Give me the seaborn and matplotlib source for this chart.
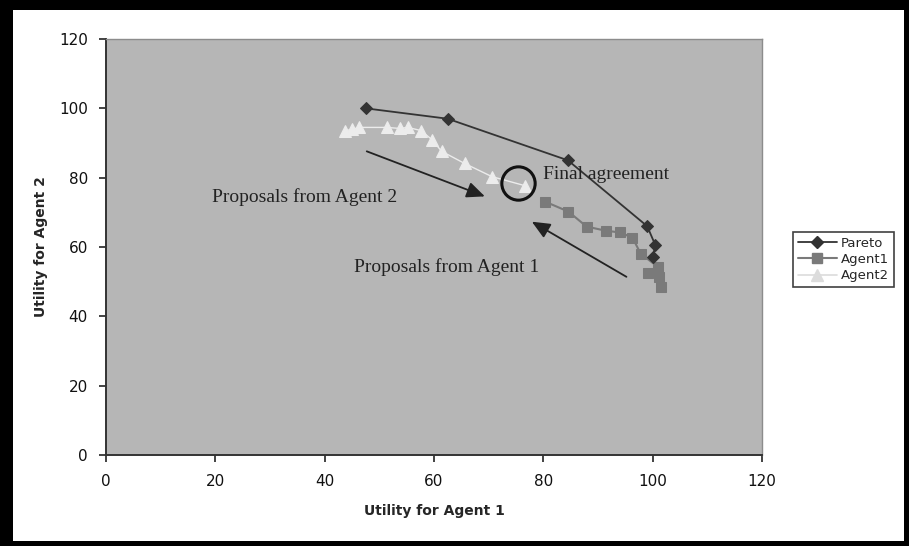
import matplotlib
matplotlib.use("Agg")
import matplotlib.pyplot as plt
import matplotlib.patches as mpatches
from matplotlib.lines import Line2D
import seaborn as sns
import pandas as pd

# Pareto frontier
pareto_u1 = [47.5, 62.5, 84.5, 99.0, 100.5, 100.0]
pareto_u2 = [100.0, 97.0, 85.0, 66.0, 60.5, 57.0]

# Offers made by Agent 1 (conceding from its own optimum)
agent1_u1 = [80.3, 84.6, 87.9, 91.4, 94.0, 96.3, 97.8, 100.9, 99.1, 101.1, 101.6]
agent1_u2 = [73.1, 70.2, 65.9, 64.7, 64.2, 62.7, 58.1, 54.3, 52.6, 51.4, 48.6]

# Offers made by Agent 2
agent2_u1 = [43.7, 45.0, 46.3, 51.4, 53.7, 55.2, 57.6, 59.6, 61.4, 65.6, 70.6, 76.6]
agent2_u2 = [93.6, 93.9, 94.5, 94.5, 94.2, 94.5, 93.6, 91.0, 87.6, 84.1, 80.3, 77.7]

agreement = (75.3, 78.6)

x_ticks = [0, 20, 40, 60, 80, 100, 120]
y_ticks = [0, 20, 40, 60, 80, 100, 120]

pareto = pd.DataFrame({"u1": pareto_u1, "u2": pareto_u2})
agent1 = pd.DataFrame({"u1": agent1_u1, "u2": agent1_u2})
agent2 = pd.DataFrame({"u1": agent2_u1, "u2": agent2_u2})

sns.set_style("white")
plt.rcParams["font.family"] = ["DejaVu Sans"]

fig = plt.figure(figsize=(9.09, 5.46), dpi=100)
fig.patch.set_facecolor("black")
# white page inside a thick black frame
fig.patches.append(mpatches.Rectangle((13 / 909, 5 / 546), 891 / 909, 531 / 546,
                                      transform=fig.transFigure, facecolor="white",
                                      edgecolor="none", zorder=-10))

ax = fig.add_axes([106 / 909, 91 / 546, 656 / 909, 416 / 546])
ax.set_facecolor("#b6b6b6")

pareto_col = "#333333"
agent1_col = "#7a7a7a"
agent2_col = "#ececec"

sns.lineplot(data=pareto, x="u1", y="u2", sort=False, ax=ax, color=pareto_col,
             lw=1.3, marker="D", markersize=6.5, markeredgecolor=pareto_col, zorder=4)
sns.lineplot(data=agent1, x="u1", y="u2", sort=False, ax=ax, color=agent1_col,
             lw=1.5, marker="s", markersize=7.5, markeredgecolor=agent1_col, zorder=3)
sns.lineplot(data=agent2, x="u1", y="u2", sort=False, ax=ax, color=agent2_col,
             lw=1.0, marker="^", markersize=9, markeredgecolor=agent2_col, zorder=3)

# ring around the final agreement
ax.plot([agreement[0]], [agreement[1]], marker="o", markersize=24,
        markerfacecolor="none", markeredgecolor="#111111", markeredgewidth=2.2, zorder=6)

serif = ["Liberation Serif", "DejaVu Serif"]
ax.text(19.4, 74.3, "Proposals from Agent 2", fontsize=14, family=serif,
        color="#222222", va="center", ha="left")
ax.text(45.3, 54.3, "Proposals from Agent 1", fontsize=14, family=serif,
        color="#222222", va="center", ha="left")
ax.text(79.9, 80.9, "Final agreement", fontsize=14, family=serif,
        color="#222222", va="center", ha="left", zorder=7)

arrow_kw = dict(arrowstyle="-|>,head_length=0.5,head_width=0.22", color="#222222",
                lw=1.3, mutation_scale=22, shrinkA=0, shrinkB=0)
ax.annotate("", xy=(69.3, 74.6), xytext=(47.7, 87.6), arrowprops=arrow_kw)
ax.annotate("", xy=(77.9, 67.3), xytext=(95.2, 51.4), arrowprops=arrow_kw)

ax.set_xlim(0, 120)
ax.set_ylim(0, 120)
ax.set_xticks(x_ticks)
ax.set_yticks(y_ticks)
ax.tick_params(axis="both", direction="out", length=5, width=1.2, color="#222222",
               labelsize=11, labelcolor="#111111", left=True, bottom=True)
ax.tick_params(axis="x", pad=9)
ax.tick_params(axis="y", pad=8)

for side in ("left", "bottom"):
    ax.spines[side].set_color("#333333")
    ax.spines[side].set_linewidth(1.4)
for side in ("top", "right"):
    ax.spines[side].set_color("#8c8c8c")
    ax.spines[side].set_linewidth(1.0)
    ax.spines[side].set_visible(True)

ax.set_xlabel("Utility for Agent 1", fontsize=10, fontweight="bold")
ax.set_ylabel("Utility for Agent 2", fontsize=10, fontweight="bold")
ax.xaxis.set_label_coords(0.5, -0.118)
ax.yaxis.set_label_coords(-0.088, 0.5)

handles = [
    Line2D([], [], color=pareto_col, lw=1.3, marker="D", markersize=6, label="Pareto"),
    Line2D([], [], color=agent1_col, lw=1.5, marker="s", markersize=7, label="Agent1"),
    Line2D([], [], color="#dcdcdc", lw=1.2, marker="^", markersize=8, label="Agent2"),
]
leg = fig.legend(handles=handles, loc="upper left", bbox_to_anchor=(793 / 909, 1 - 232 / 546),
                 frameon=True, fancybox=False, edgecolor="#111111", fontsize=9.5,
                 handlelength=3.0, handletextpad=0.3, borderpad=0.35, labelspacing=0.25,
                 borderaxespad=0)
leg.get_frame().set_linewidth(1.2)

fig.savefig("out.png", dpi=100, facecolor=fig.get_facecolor())
